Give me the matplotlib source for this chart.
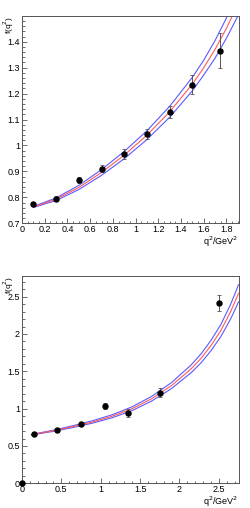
import matplotlib
matplotlib.use('Agg')
import matplotlib.pyplot as plt
from matplotlib.ticker import MultipleLocator, FormatStrFormatter

plt.rcParams['font.family'] = ['Liberation Sans', 'DejaVu Sans']

# upper panel: data points
q2_a = [0.1, 0.3, 0.5, 0.7, 0.9, 1.1, 1.3, 1.5, 1.74]
f_a = [0.774, 0.795, 0.866, 0.910, 0.967, 1.043, 1.129, 1.235, 1.365]
err_a = [0.004, 0.009, 0.012, 0.014, 0.018, 0.019, 0.024, 0.035, 0.068]

# upper panel: fit curve and band
cq2_a = [0.1, 0.3, 0.5, 0.7, 0.9, 1.1, 1.3, 1.5, 1.6, 1.7, 1.8, 1.9]
cen_a = [0.763, 0.793, 0.838, 0.896, 0.963, 1.040, 1.130, 1.237, 1.300, 1.371, 1.452, 1.545]
up_a = [0.765, 0.798, 0.846, 0.907, 0.977, 1.057, 1.151, 1.263, 1.329, 1.405, 1.492, 1.591]
lo_a = [0.761, 0.788, 0.830, 0.885, 0.949, 1.023, 1.109, 1.211, 1.272, 1.337, 1.414, 1.499]

# lower panel: data points (ROOT also put one at the origin)
q2_b = [0.0, 0.15, 0.45, 0.75, 1.05, 1.35, 1.75, 2.5]
f_b = [0.0, 0.656, 0.714, 0.794, 1.035, 0.941, 1.216, 2.419]
err_b = [0.0, 0.012, 0.022, 0.028, 0.040, 0.048, 0.058, 0.105]

cq2_b = [0.12, 0.4, 0.65, 0.9, 1.15, 1.4, 1.65, 1.9, 2.15, 2.275, 2.4, 2.525, 2.65, 2.7, 2.75]
cen_b = [0.651, 0.704, 0.760, 0.823, 0.900, 1.000, 1.135, 1.310, 1.535, 1.675, 1.845, 2.045, 2.300, 2.420, 2.545]
up_b = [0.654, 0.712, 0.772, 0.839, 0.920, 1.025, 1.166, 1.350, 1.587, 1.735, 1.914, 2.126, 2.398, 2.526, 2.660]
lo_b = [0.648, 0.696, 0.748, 0.807, 0.880, 0.975, 1.104, 1.270, 1.483, 1.615, 1.776, 1.964, 2.202, 2.314, 2.430]

fig = plt.figure(figsize=(2.5, 5.08), dpi=100)
ax1 = fig.add_axes([0.088, 0.5604, 0.867, 0.408])
ax2 = fig.add_axes([0.088, 0.0486, 0.867, 0.408])


def draw(ax, q, f, e, cq, cen, up, lo):
    ax.plot(cq, up, color='#5a5aff', lw=0.8)
    ax.plot(cq, lo, color='#5a5aff', lw=0.8)
    ax.plot(cq, cen, color='#ff5a5a', lw=0.8)
    ax.errorbar(q, f, yerr=e, fmt='o', color='black', ecolor='#555555',
                elinewidth=0.7, capsize=1.2, capthick=0.6, ms=3.6, zorder=5,
                clip_on=False)


def style(ax):
    ax.tick_params(which='both', direction='in', top=False, right=False,
                   labelsize=6.5, pad=1.5, width=0.5, color='#333333')
    ax.tick_params(which='major', length=3.5)
    ax.tick_params(which='minor', length=1.8)
    ax.xaxis.set_major_formatter(FormatStrFormatter('%g'))
    ax.yaxis.set_major_formatter(FormatStrFormatter('%g'))
    for s in ax.spines.values():
        s.set_linewidth(0.7)
        s.set_color('#555555')
    ax.set_ylabel('f(q$^2$)', fontsize=6, ha='right', va='center')
    ax.yaxis.set_label_coords(-0.062, 1.0)
    ax.set_xlabel('q$^2$/GeV$^2$', fontsize=6.5, loc='right', labelpad=0)


draw(ax1, q2_a, f_a, err_a, cq2_a, cen_a, up_a, lo_a)
ax1.set_xlim(0, 1.908)
ax1.set_ylim(0.7, 1.499)
ax1.xaxis.set_major_locator(MultipleLocator(0.2))
ax1.xaxis.set_minor_locator(MultipleLocator(0.05))
ax1.yaxis.set_major_locator(MultipleLocator(0.1))
ax1.yaxis.set_minor_locator(MultipleLocator(0.02))
style(ax1)

draw(ax2, q2_b, f_b, err_b, cq2_b, cen_b, up_b, lo_b)
ax2.set_xlim(0, 2.753)
ax2.set_ylim(0, 2.776)
ax2.xaxis.set_major_locator(MultipleLocator(0.5))
ax2.xaxis.set_minor_locator(MultipleLocator(0.1))
ax2.yaxis.set_major_locator(MultipleLocator(0.5))
ax2.yaxis.set_minor_locator(MultipleLocator(0.1))
style(ax2)

fig.savefig('out.png', dpi=100)
